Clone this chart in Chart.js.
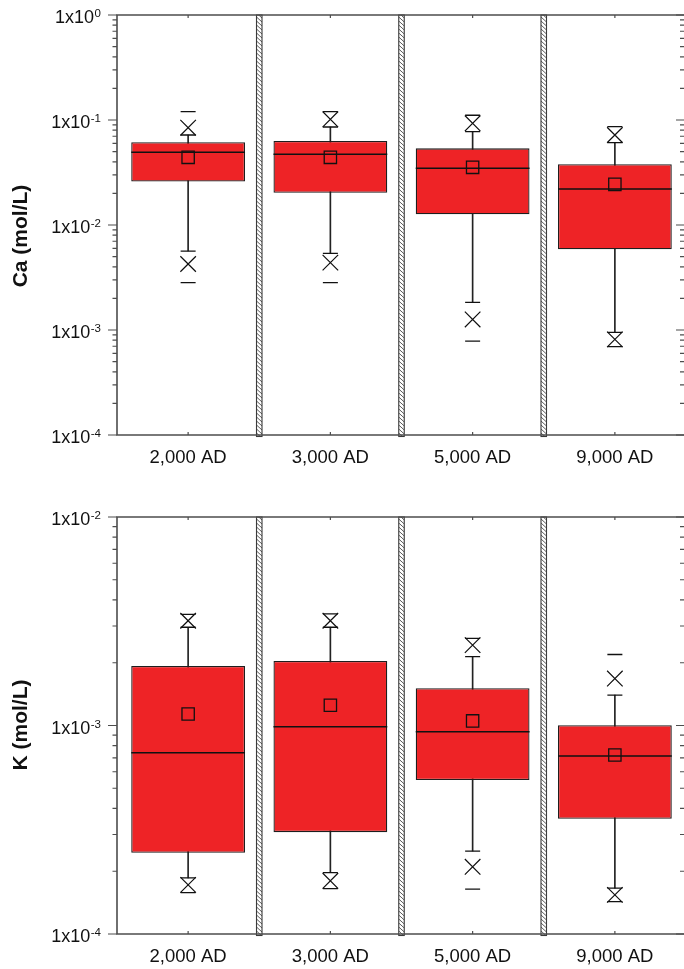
<!DOCTYPE html>
<html>
<head>
<meta charset="utf-8">
<script src="https://cdn.jsdelivr.net/npm/chart.js@4.4.1/dist/chart.umd.min.js"></script>
<style>
  html, body { margin: 0; padding: 0; background: #fff; overflow: hidden; width: 684px; height: 969px; }
  #wrap { position: relative; width: 684px; height: 969px; overflow: hidden; }
  canvas { position: absolute; left: 0; }
  #caChart { top: 0; }
  #kChart { top: 480px; }
</style>
</head>
<body>
<div id="wrap">
  <canvas id="caChart" width="700" height="480"></canvas>
  <canvas id="kChart" width="700" height="489"></canvas>
</div>
<script>
// Sampling periods
const categories = ['2,000 AD', '3,000 AD', '5,000 AD', '9,000 AD'];

// Calcium concentration statistics (mol/L)
const caMin    = [0.00282, 0.00282, 0.000785, 0.000693];
const caP05    = [0.00425, 0.00438, 0.00126, 0.000815];
const caP10    = [0.00565, 0.00537, 0.00183, 0.000951];
const caQ1     = [0.0259, 0.0203, 0.01265, 0.00587];
const caMedian = [0.0492, 0.0471, 0.0347, 0.0220];
const caMean   = [0.0441, 0.0441, 0.0354, 0.0244];
const caQ3     = [0.0613, 0.0630, 0.0537, 0.0379];
const caP90    = [0.0720, 0.0858, 0.0774, 0.0608];
const caP95    = [0.0845, 0.1015, 0.0930, 0.0720];
const caMax    = [0.120, 0.120, 0.111, 0.0864];

// Potassium concentration statistics (mol/L)
const kMin    = [0.000158, 0.000165, 0.000164, 0.000143];
const kP05    = [0.000172, 0.000180, 0.000210, 0.000154];
const kP10    = [0.000186, 0.000197, 0.000250, 0.000166];
const kQ1     = [0.000245, 0.000308, 0.000548, 0.000357];
const kMedian = [0.000741, 0.000987, 0.000933, 0.000714];
const kMean   = [0.001135, 0.00125, 0.001052, 0.000722];
const kQ3     = [0.00193, 0.00204, 0.00151, 0.001004];
const kP90    = [0.00296, 0.00296, 0.00214, 0.00140];
const kP95    = [0.00318, 0.00318, 0.00243, 0.00168];
const kMax    = [0.00341, 0.00343, 0.00262, 0.00219];

// Labelled decades on each axis (powers of ten)
const caTickExponents = [0, -1, -2, -3, -4];
const kTickExponents  = [-2, -3, -4];

const FONT = '"Liberation Sans", Arial, Helvetica, sans-serif';
const BOX_FILL = '#EE2326';
const INK = '#111';
const AXIS = '#4d4d4d';
const BOX_FRAC = 0.8;

function drawSeparator(ctx, cx, top, bottom) {
  const w = 5.5, l = cx - w / 2, r = cx + w / 2;
  ctx.save();
  ctx.fillStyle = '#fff';
  ctx.fillRect(l, top, w, bottom - top);
  ctx.beginPath();
  ctx.rect(l, top, w, bottom - top);
  ctx.clip();
  ctx.strokeStyle = '#4a4a4a';
  ctx.lineWidth = 0.9;
  ctx.beginPath();
  for (let yy = top - 6; yy < bottom; yy += 4) {
    ctx.moveTo(l, yy);
    ctx.lineTo(r, yy + 5);
  }
  ctx.stroke();
  ctx.restore();
  ctx.save();
  ctx.strokeStyle = '#3a3a3a';
  ctx.lineWidth = 1.1;
  ctx.strokeRect(l, top, w, bottom - top);
  ctx.restore();
}

// Frame, log ticks, superscript tick labels, category labels and axis title
const frame = {
  id: 'frame',
  afterDraw(chart, args, o) {
    const { ctx, chartArea: a, scales: { x, y } } = chart;
    ctx.save();

    for (let i = 0; i < categories.length - 1; i++) {
      const cx = (x.getPixelForValue(i) + x.getPixelForValue(i + 1)) / 2;
      drawSeparator(ctx, cx, a.top, a.bottom + 1.5);
    }

    ctx.strokeStyle = AXIS;
    ctx.lineWidth = 1.6;
    ctx.beginPath();
    ctx.moveTo(a.left - 0.8, a.top); ctx.lineTo(a.right, a.top);
    ctx.moveTo(a.left - 0.8, a.bottom); ctx.lineTo(a.right, a.bottom);
    ctx.moveTo(a.left, a.top); ctx.lineTo(a.left, a.bottom);
    ctx.moveTo(a.right, a.top); ctx.lineTo(a.right, a.bottom);
    ctx.stroke();

    // minor and major ticks on both vertical axes
    ctx.lineWidth = 1.2;
    ctx.beginPath();
    const e0 = Math.round(Math.log10(y.min)), e1 = Math.round(Math.log10(y.max));
    for (let e = e0; e <= e1; e++) {
      for (let m = 1; m <= 9; m++) {
        const v = m * Math.pow(10, e);
        if (v > y.max * 1.0001) break;
        const py = y.getPixelForValue(v);
        const major = m === 1;
        ctx.moveTo(a.left - (major ? 9 : 4.5), py); ctx.lineTo(a.left, py);
        ctx.moveTo(a.right - (major ? 10 : 6), py); ctx.lineTo(a.right, py);
      }
    }
    // category ticks on top and bottom edges
    categories.forEach((c, i) => {
      const px = x.getPixelForValue(i);
      ctx.moveTo(px, a.top); ctx.lineTo(px, a.top + 3);
      ctx.moveTo(px, a.bottom - 3); ctx.lineTo(px, a.bottom);
    });
    ctx.stroke();

    // y tick labels: 1x10 with superscript exponent
    ctx.fillStyle = '#111';
    ctx.textAlign = 'left';
    ctx.textBaseline = 'alphabetic';
    const mainFont = '18px ' + FONT, supFont = '11.5px ' + FONT;
    o.exponents.forEach(e => {
      const py = y.getPixelForValue(Math.pow(10, e));
      const sup = String(e);
      ctx.font = mainFont;
      const wm = ctx.measureText('1x10').width;
      ctx.font = supFont;
      const ws = ctx.measureText(sup).width;
      const x0 = 101 - ws - wm - 0.5;
      ctx.font = mainFont;
      ctx.fillText('1x10', x0, py + 8);
      ctx.font = supFont;
      ctx.fillText(sup, x0 + wm + 0.5, py + 2.3);
    });

    // category labels
    ctx.font = '18.5px ' + FONT;
    ctx.textAlign = 'center';
    categories.forEach((c, i) => {
      ctx.fillText(c, x.getPixelForValue(i), a.bottom + 28);
    });

    // axis title
    ctx.translate(o.titleX, o.titleY);
    ctx.rotate(-Math.PI / 2);
    ctx.font = 'bold 21px ' + FONT;
    ctx.textAlign = 'center';
    ctx.textBaseline = 'alphabetic';
    ctx.fillText(o.title, 0, 0);
    ctx.restore();
  }
};

function boxChart(canvasId, s, opts) {
  const halfBox = ctx => {
    const sx = ctx.chart.scales.x;
    return sx.width / categories.length * BOX_FRAC / 2;
  };
  const marker = (data, style, radius, width) => ({
    type: 'line',
    data,
    showLine: false,
    pointStyle: style,
    pointRadius: radius,
    pointHoverRadius: radius,
    pointBorderColor: INK,
    pointBackgroundColor: 'rgba(0,0,0,0)',
    pointBorderWidth: width,
    order: 0
  });
  return new Chart(document.getElementById(canvasId), {
    type: 'bar',
    data: {
      labels: categories,
      datasets: [
        marker(s.mean, 'rect', 8.7, 1.3),
        marker(s.median, 'line', halfBox, 1.5),
        marker(s.p05, 'crossRot', 11, 1.2),
        marker(s.p95, 'crossRot', 11, 1.2),
        marker(s.p10, 'line', 7.5, 1.3),
        marker(s.p90, 'line', 7.5, 1.3),
        marker(s.min, 'line', 7.5, 1.3),
        marker(s.max, 'line', 7.5, 1.3),
        {
          type: 'bar',
          data: s.q1.map((q, i) => [q, s.q3[i]]),
          backgroundColor: BOX_FILL,
          borderColor: '#1e1e1e',
          borderWidth: 1.3,
          borderSkipped: false,
          grouped: false,
          barPercentage: BOX_FRAC,
          categoryPercentage: 1,
          order: 1
        },
        {
          type: 'bar',
          data: s.p10.map((v, i) => [v, s.p90[i]]),
          backgroundColor: '#222',
          borderWidth: 0,
          barThickness: 1,
          grouped: false,
          order: 2
        }
      ]
    },
    options: {
      responsive: false,
      animation: false,
      devicePixelRatio: 1,
      events: [],
      layout: { padding: { left: 117, right: 14, top: opts.top, bottom: opts.bottom } },
      plugins: {
        legend: { display: false },
        tooltip: { enabled: false },
        frame: { exponents: opts.exponents, title: opts.title, titleX: opts.titleX, titleY: opts.titleY }
      },
      scales: {
        x: { type: 'category', display: false, offset: true },
        y: { type: 'logarithmic', display: false, min: opts.min, max: opts.max }
      }
    },
    plugins: [frame]
  });
}

boxChart('caChart',
  { min: caMin, p05: caP05, p10: caP10, q1: caQ1, median: caMedian, mean: caMean, q3: caQ3, p90: caP90, p95: caP95, max: caMax },
  { top: 15, bottom: 45, min: 1e-4, max: 1, exponents: caTickExponents, title: 'Ca (mol/L)', titleX: 27, titleY: 236 });

boxChart('kChart',
  { min: kMin, p05: kP05, p10: kP10, q1: kQ1, median: kMedian, mean: kMean, q3: kQ3, p90: kP90, p95: kP95, max: kMax },
  { top: 37, bottom: 35, min: 1e-4, max: 1e-2, exponents: kTickExponents, title: 'K (mol/L)', titleX: 27, titleY: 245 });
</script>
</body>
</html>
